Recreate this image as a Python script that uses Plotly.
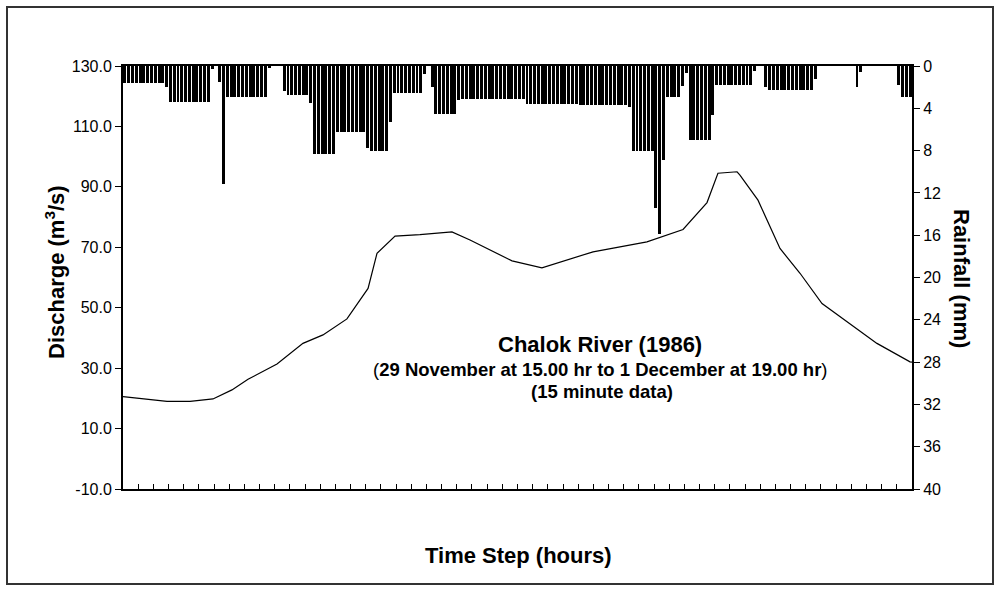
import plotly.graph_objects as go

# Rainfall (mm) per 15-minute step, 29 Nov 15:00 -> 1 Dec 19:00 (208 steps)
rainfall_mm = [
    1.6, 1.6, 1.6, 1.6, 1.6, 1.6, 1.6, 1.6, 1.6, 1.6, 1.6,
    2.0,
    3.4, 3.4, 3.4, 3.4, 3.4, 3.4, 3.4, 3.4, 3.4, 3.4, 3.4,
    0.3, 0.0, 1.5, 11.2,
    2.9, 2.9, 2.9, 2.9, 2.9, 2.9, 2.9, 2.9, 2.9, 2.9, 2.9,
    0.2, 0.0, 0.0, 0.0,
    2.4, 2.7, 2.7, 2.7, 2.7, 2.7, 2.7, 3.5,
    8.3, 8.3, 8.3, 8.3, 8.3, 8.3,
    6.2, 6.2, 6.2, 6.2, 6.2, 6.2, 6.2, 6.2,
    7.8, 8.0, 8.0, 8.0, 8.0, 8.0, 5.3,
    2.6, 2.6, 2.6, 2.6, 2.6, 2.6, 2.6, 2.6,
    0.8, 0.0, 2.0,
    4.5, 4.5, 4.5, 4.5, 4.5, 4.5, 3.2,
    3.1, 3.1, 3.1, 3.1, 3.1, 3.1, 3.1, 3.1, 3.1, 3.1, 3.1, 3.1, 3.1, 3.1, 3.1, 3.1, 3.1,
    3.6, 3.6, 3.6, 3.6, 3.6, 3.6, 3.6, 3.6, 3.6, 3.6, 3.6, 3.6, 3.6, 3.6,
    3.7, 3.7, 3.7, 3.7, 3.7, 3.7, 3.7, 3.7, 3.7, 3.7, 3.7, 3.7, 3.7,
    3.9,
    8.0, 8.0, 8.0, 8.0, 8.0, 8.0,
    13.4, 15.9, 8.9,
    2.9, 2.9, 2.9, 2.9, 1.9, 0.7,
    7.0, 7.0, 7.0, 7.0, 7.0, 7.0, 4.6,
    1.8, 1.8, 1.8, 1.8, 1.8, 1.8, 1.8, 1.8, 1.8, 1.8,
    0.5, 0.0, 0.0, 2.0,
    2.3, 2.3, 2.3, 2.3, 2.3, 2.3, 2.3, 2.3, 2.3, 2.3, 2.3, 2.3,
    1.2,
    0.0, 0.0, 0.0, 0.0, 0.0, 0.0, 0.0, 0.0, 0.0, 0.0,
    2.0, 0.6,
    0.0, 0.0, 0.0, 0.0, 0.0, 0.0, 0.0, 0.0, 0.0,
    1.8, 2.9, 2.9, 2.9,
]
step_hours = 0.25

# Discharge (m3/s) read at times (hours from start)
discharge_time_h = [0.0, 1.45, 2.9, 4.42, 5.93, 7.18, 8.24, 10.15, 11.86, 13.18,
                    14.76, 16.15, 16.74, 17.93, 19.57, 21.68, 22.87, 25.64, 27.61,
                    30.98, 34.53, 36.91, 38.49, 39.21, 40.47, 40.66, 41.85, 43.30,
                    44.62, 46.07, 47.72, 49.69, 51.87, 52.0]
discharge_m3s = [20.6, 19.8, 19.0, 19.0, 19.8, 22.8, 26.3, 31.4, 38.2, 41.0,
                 46.3, 56.4, 68.0, 73.7, 74.2, 75.1, 72.4, 65.5, 63.2,
                 68.5, 71.8, 75.9, 84.8, 94.5, 95.0, 93.9, 85.6, 69.6,
                 61.4, 51.4, 45.4, 38.2, 32.1, 32.0]

# Tick labels
discharge_ticks = [-10, 10, 30, 50, 70, 90, 110, 130]
discharge_ticklabels = ["-10.0", "10.0", "30.0", "50.0", "70.0", "90.0", "110.0", "130.0"]
rain_ticks = [0, 4, 8, 12, 16, 20, 24, 28, 32, 36, 40]
rain_ticklabels = ["0", "4", "8", "12", "16", "20", "24", "28", "32", "36", "40"]

FONT = "Liberation Sans, Arial, sans-serif"

bar_x = [(i + 0.5) * step_hours for i in range(len(rainfall_mm))]

fig = go.Figure()
fig.add_trace(go.Bar(x=bar_x, y=rainfall_mm, yaxis="y2", width=step_hours * 0.78,
                     marker=dict(color="#000000", line=dict(width=0)),
                     showlegend=False))
fig.add_trace(go.Scatter(x=discharge_time_h, y=discharge_m3s, mode="lines",
                         line=dict(color="black", width=1.2), showlegend=False,
                         yaxis="y"))

fig.update_layout(
    width=1000, height=591,
    margin=dict(l=123, r=88, t=66, b=102),
    paper_bgcolor="white", plot_bgcolor="white",
    font=dict(family=FONT, size=16, color="black"),
    xaxis=dict(range=[0, 52], dtick=1, tick0=0, ticks="inside", ticklen=5,
               tickwidth=1, tickcolor="black", showticklabels=False,
               showline=True, linecolor="black", linewidth=2, mirror=True,
               showgrid=False, zeroline=False),
    yaxis=dict(range=[-10, 130], tickvals=discharge_ticks, ticktext=discharge_ticklabels,
               ticks="outside", ticklen=6, tickwidth=1, tickcolor="black",
               showline=True, linecolor="black", linewidth=2,
               showgrid=False, zeroline=False,
               tickfont=dict(family=FONT, size=16)),
    yaxis2=dict(range=[40, 0], tickvals=rain_ticks, ticktext=rain_ticklabels,
                overlaying="y", side="right",
                ticks="outside", ticklen=6, tickwidth=1, tickcolor="black",
                showline=True, linecolor="black", linewidth=2,
                showgrid=False, zeroline=False,
                tickfont=dict(family=FONT, size=16)),
    bargap=0,
)

annots = [
    dict(text="<b>Discharge (m<sup>3</sup>/s)</b>", x=55, y=272, textangle=-90, size=22),
    dict(text="<b>Rainfall (mm)</b>", x=962, y=278, textangle=90, size=22),
    dict(text="<b>Time Step (hours)</b>", x=518, y=555, textangle=0, size=22),
    dict(text="<b>Chalok River (1986)</b>", x=600, y=344, textangle=0, size=22),
    dict(text="(<b>29 November at 15.00 hr to 1 December at 19.00 hr</b>)", x=600, y=369, textangle=0, size=18.5),
    dict(text="<b>(15 minute data)</b>", x=602, y=391, textangle=0, size=18.5),
]
for a in annots:
    fig.add_annotation(text=a["text"], xref="paper", yref="paper",
                       x=(a["x"] - 123) / 789, y=(489 - a["y"]) / 423,
                       xanchor="center", yanchor="middle", showarrow=False,
                       textangle=a["textangle"],
                       font=dict(family=FONT, size=a["size"], color="black"))

# outer frame
fig.add_shape(type="rect", xref="paper", yref="paper",
              x0=(7 - 123) / 789, x1=(993 - 123) / 789,
              y0=(489 - 584) / 423, y1=(489 - 7) / 423,
              line=dict(color="#333333", width=2), fillcolor="rgba(0,0,0,0)",
              layer="below")

fig.write_html("out.html", config={"displayModeBar": False},
               post_script="document.body.style.margin='0px';document.body.style.overflow='hidden';")
